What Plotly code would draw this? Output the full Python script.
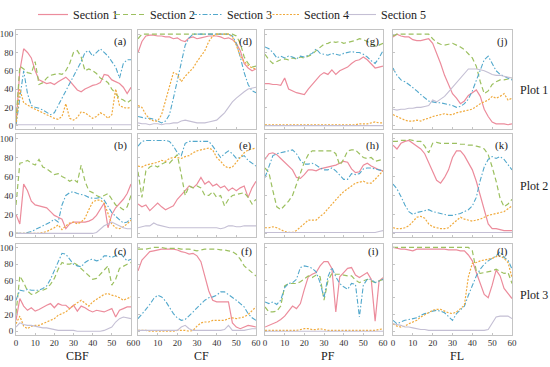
import plotly.graph_objects as go

# ---------------- data ----------------
x_vals = [0, 2, 4, 6, 8, 10, 12, 14, 16, 18, 20, 22, 24, 26, 28, 30,
          32, 34, 36, 38, 40, 42, 44, 46, 48, 50, 52, 54, 56, 58, 60]

sections = ["Section 1", "Section 2", "Section 3", "Section 4", "Section 5"]
col_labels = ["CBF", "CF", "PF", "FL"]
row_labels = ["Plot 1", "Plot 2", "Plot 3"]
y_ticks = [0, 20, 40, 60, 80, 100]
x_ticks = [0, 10, 20, 30, 40, 50, 60]

# (a) CBF / Plot 1
a_s1 = [2,60,84,80,74,60,50,48,46,47,45,48,51,53,49,44,39,37,40,42,44,45,47,56,55,50,48,46,42,35,42]
a_s2 = [5,65,62,58,57,70,45,47,52,55,56,57,56,60,68,80,82,75,60,62,60,57,52,50,47,40,35,30,28,25,28]
a_s3 = [0,30,60,35,22,20,19,17,14,12,14,22,30,38,46,54,62,70,80,82,76,80,84,80,76,70,64,52,68,72,72]
a_s4 = [0,40,25,22,20,18,16,14,12,10,8,7,10,24,8,6,9,15,14,11,8,10,14,12,8,12,40,22,20,19,20]
a_s5 = [1,1,1,1,1,1,1,1,1,1,1,1,1,1,1,1,1,1,1,1,1,1,1,1,1,1,1,1,1,1,1]
# (b) CBF / Plot 2
b_s1 = [20,10,52,45,34,30,29,28,27,23,19,17,15,5,10,12,12,12,12,13,15,19,26,32,6,20,27,31,36,42,52]
b_s2 = [30,74,75,77,74,72,78,70,68,65,62,63,60,58,55,57,54,72,55,45,43,40,38,40,42,36,30,28,25,28,40]
b_s3 = [0,0,0,1,2,4,6,8,10,12,15,12,30,40,43,44,42,41,40,38,37,37,38,35,28,22,18,14,11,12,16]
b_s4 = [0,0,0,0,0,0,0,1,2,4,6,9,4,8,11,12,10,12,16,25,33,35,35,32,20,10,6,5,7,10,14]
b_s5 = [0,0,0,0,0,0,0,0,0,0,0,0,0,0,0,0,0,0,0,0,0,1,5,8,10,12,10,8,6,5,5]
# (c) CBF / Plot 3
c_s1 = [13,39,30,25,28,24,26,29,31,33,28,33,31,31,27,31,24,30,28,25,23,25,24,23,25,27,17,25,27,29,29]
c_s2 = [21,66,58,48,44,45,48,49,51,56,63,74,82,80,80,82,79,75,70,66,62,63,68,73,78,55,62,75,78,80,82]
c_s3 = [37,49,48,50,49,49,49,51,54,62,72,84,93,92,86,80,78,77,82,85,86,84,85,90,90,88,90,94,89,84,86]
c_s4 = [9,18,6,3,6,7,7,9,11,13,15,19,21,23,27,31,34,37,33,30,35,38,41,44,45,43,42,40,37,39,41]
c_s5 = [5,10,8,7,7,6,5,4,4,3,2,1,1,1,1,1,0,0,0,0,0,0,0,1,3,5,11,15,17,16,15]
# (d) CF / Plot 1
d_s1 = [80,92,98,99,99,98,98,97,97,95,96,93,92,96,97,95,96,97,98,98,98,97,95,96,94,90,82,68,63,60,62]
d_s2 = [95,100,100,100,100,100,100,100,100,100,100,100,100,100,100,100,100,100,100,100,100,100,100,100,100,98,90,75,68,64,65]
d_s3 = [10,9,8,8,7,5,3,5,12,30,50,70,88,96,100,100,100,100,100,100,100,100,100,100,98,90,75,58,45,38,36]
d_s4 = [22,20,12,7,5,5,12,28,45,58,56,48,54,58,63,70,76,82,92,98,100,100,100,100,97,88,76,70,66,63,62]
d_s5 = [3,2,2,1,2,2,1,2,2,3,3,5,6,5,4,3,3,3,4,5,6,10,14,20,26,30,34,37,40,41,42]
# (e) CF / Plot 2
e_s1 = [31,28,30,24,28,32,28,25,27,29,36,40,45,50,48,52,59,52,55,50,52,48,50,45,48,45,48,50,38,48,55]
e_s2 = [65,38,66,70,72,70,73,75,74,78,83,62,40,50,48,50,48,40,40,44,38,40,29,36,40,41,42,43,38,31,36]
e_s3 = [92,97,98,98,98,98,98,98,97,92,85,82,95,97,97,97,97,97,97,92,86,80,84,87,84,79,80,82,77,74,71]
e_s4 = [71,70,72,73,74,75,77,76,79,80,80,79,81,82,85,87,88,89,90,88,80,76,71,69,70,75,80,85,88,89,90]
e_s5 = [6,7,8,8,11,9,8,7,6,6,6,6,6,6,6,6,6,6,6,6,6,5,6,8,8,7,7,8,8,8,8]
# (f) CF / Plot 3
f_s1 = [72,85,90,95,96,97,98,98,98,98,97,95,94,92,93,90,83,64,48,37,35,35,35,35,10,5,3,5,7,6,5]
f_s2 = [98,98,98,99,100,100,100,99,99,99,99,98,98,98,97,96,97,98,98,98,98,97,97,96,95,92,86,78,74,71,66]
f_s3 = [15,20,26,32,39,43,41,36,28,21,16,13,14,18,23,28,33,37,40,41,43,47,47,44,41,37,33,29,21,16,13]
f_s4 = [1,1,1,0,0,0,0,0,0,0,1,1,1,0,1,6,10,11,11,13,13,13,13,15,16,15,16,17,20,25,29]
f_s5 = [1,1,1,1,1,1,1,1,1,1,1,5,7,3,1,1,1,1,1,1,1,1,2,7,1,1,1,1,2,3,3]
# (g) PF / Plot 1
g_s1 = [46,46,45,45,44,52,40,38,36,35,34,40,45,50,55,58,56,61,56,60,62,64,68,71,72,75,72,67,63,64,65]
g_s2 = [78,72,68,70,72,73,72,74,73,75,74,76,78,82,86,89,90,92,91,92,90,91,92,93,95,94,92,89,87,88,90]
g_s3 = [86,84,80,74,76,74,76,75,73,76,75,77,79,84,79,78,77,79,78,77,79,80,81,80,80,78,75,71,68,74,82]
g_s4 = [1,1,1,1,1,1,1,1,1,1,1,1,1,1,1,1,1,1,1,1,1,1,1,1,2,2,2,3,4,3,3]
g_s5 = [0,0,0,0,0,0,0,0,0,0,0,0,0,0,0,0,0,0,0,0,0,0,0,0,0,0,0,0,0,0,0]
# (h) PF / Plot 2
h_s1 = [78,84,85,83,79,75,71,67,59,58,62,67,67,66,68,69,70,71,72,74,76,75,68,64,65,72,74,71,69,67,66]
h_s2 = [69,64,45,28,25,29,34,40,52,63,75,83,87,87,87,87,87,87,84,72,78,87,88,88,84,80,79,80,76,77,78]
h_s3 = [59,70,82,84,85,86,87,88,84,77,73,73,74,72,69,67,67,69,66,61,57,57,63,62,63,68,69,69,68,67,66]
h_s4 = [6,6,7,6,4,2,1,1,3,7,11,14,14,14,18,21,26,31,35,40,44,47,50,53,54,55,53,53,57,62,66]
h_s5 = [1,1,1,1,1,1,1,1,1,1,1,1,1,1,1,1,1,1,1,1,1,1,1,1,1,1,1,1,1,2,3]
# (i) PF / Plot 3
i_s1 = [5,7,9,11,14,18,24,30,27,33,50,65,68,70,78,83,83,75,23,65,70,75,76,67,64,67,70,62,12,60,64]
i_s2 = [29,23,23,24,30,54,57,57,57,59,63,66,64,67,65,37,60,69,68,68,67,66,66,61,58,60,62,60,58,60,62]
i_s3 = [35,33,35,32,37,52,57,58,62,76,78,77,75,71,58,40,65,76,65,57,53,50,57,56,17,55,62,62,58,60,62]
i_s4 = [1,1,1,1,1,1,1,1,1,2,3,3,2,2,3,2,1,1,1,1,1,1,1,1,1,1,1,1,1,2,3]
i_s5 = [0,0,0,0,0,0,0,0,0,0,0,0,0,0,0,0,0,0,0,0,0,0,0,0,0,0,0,0,0,0,0]
# (j) FL / Plot 1
j_s1 = [97,100,98,97,97,94,93,93,94,95,90,80,68,55,44,35,30,24,27,33,36,39,32,18,10,4,2,2,2,1,2]
j_s2 = [98,100,100,100,100,100,100,100,100,100,95,91,89,88,89,90,88,86,83,79,74,65,48,35,38,45,48,50,50,51,52]
j_s3 = [63,55,50,48,45,42,38,34,30,27,26,25,25,24,23,22,20,21,24,29,38,50,60,72,76,68,60,56,54,52,50]
j_s4 = [12,10,8,6,5,5,6,5,7,8,10,11,12,13,12,12,14,15,16,17,18,21,24,26,28,32,30,32,35,28,30]
j_s5 = [18,17,18,18,19,19,20,20,21,22,28,26,29,32,37,42,48,53,58,62,62,62,61,60,58,56,55,55,54,53,52]
# (k) FL / Plot 2
k_s1 = [93,89,95,97,98,95,92,89,84,74,64,56,53,59,67,80,87,87,82,75,67,55,40,26,10,5,5,4,3,3,3]
k_s2 = [97,97,98,98,99,98,97,97,92,85,95,96,95,95,95,95,95,94,94,93,93,92,91,89,83,70,55,37,28,31,36]
k_s3 = [52,47,39,30,23,20,22,23,24,25,23,22,21,20,19,19,20,21,23,25,29,38,56,70,78,81,79,81,78,73,67]
k_s4 = [6,5,5,6,8,13,17,18,16,10,7,6,5,5,6,10,14,17,15,14,13,14,15,17,19,20,21,22,23,26,29]
k_s5 = [1,1,1,1,1,1,1,1,1,1,1,1,1,1,1,1,1,1,1,1,1,1,1,1,1,1,1,1,1,1,1]
# (l) FL / Plot 3
l_s1 = [100,99,98,98,97,96,98,98,98,98,98,98,98,98,97,97,97,96,96,91,84,70,56,44,40,55,73,66,51,45,39]
l_s2 = [100,100,100,100,100,100,100,100,100,100,100,100,100,100,100,100,100,100,100,100,96,72,69,70,71,72,74,71,69,70,57]
l_s3 = [13,9,11,13,14,15,16,19,21,22,24,25,24,22,18,13,21,25,30,43,55,66,74,80,84,87,90,95,88,85,74]
l_s4 = [9,6,5,6,9,11,13,17,20,23,25,26,26,24,22,21,23,27,31,65,81,82,84,85,86,87,89,90,87,82,64]
l_s5 = [9,8,7,5,5,4,3,2,2,1,1,1,1,1,1,1,1,1,1,1,1,1,1,1,2,10,17,18,18,18,15]

panels = [
    ("a", 0, 0, [a_s1, a_s2, a_s3, a_s4, a_s5]),
    ("b", 1, 0, [b_s1, b_s2, b_s3, b_s4, b_s5]),
    ("c", 2, 0, [c_s1, c_s2, c_s3, c_s4, c_s5]),
    ("d", 0, 1, [d_s1, d_s2, d_s3, d_s4, d_s5]),
    ("e", 1, 1, [e_s1, e_s2, e_s3, e_s4, e_s5]),
    ("f", 2, 1, [f_s1, f_s2, f_s3, f_s4, f_s5]),
    ("g", 0, 2, [g_s1, g_s2, g_s3, g_s4, g_s5]),
    ("h", 1, 2, [h_s1, h_s2, h_s3, h_s4, h_s5]),
    ("i", 2, 2, [i_s1, i_s2, i_s3, i_s4, i_s5]),
    ("j", 0, 3, [j_s1, j_s2, j_s3, j_s4, j_s5]),
    ("k", 1, 3, [k_s1, k_s2, k_s3, k_s4, k_s5]),
    ("l", 2, 3, [l_s1, l_s2, l_s3, l_s4, l_s5]),
]

# ---------------- style ----------------
W, H = 550, 367
colors = ["#ec8c9c", "#9cc060", "#52a8cc", "#f0aa3c", "#c4bfd4"]
dashes = ["solid", "5px,3px", "5px,2px,1.5px,2px", "2px,1.5px", "solid"]
widths = [1.2, 1.2, 1.1, 1.2, 1.1]
legend_w = [32, 32, 32, 32, 50]
FONT = "Liberation Serif, Times New Roman, serif"
FRAME = "#c4c4c4"

col_px = [(16, 131), (138, 256), (265, 383), (393, 512)]
row_px = [(28.2, 128), (133, 236.5), (243, 334.4)]


def xf(px):
    return px / W


def yf(px):
    return 1 - px / H


fig = go.Figure()
layout = dict(width=W, height=H, margin=dict(l=0, r=0, t=0, b=0, pad=0),
              template="none", paper_bgcolor="white", plot_bgcolor="white",
              showlegend=True)
annotations = []

for letter, r, c, series in panels:
    k = r * 4 + c + 1
    suf = "" if k == 1 else str(k)
    for si, ys in enumerate(series):
        fig.add_trace(go.Scatter(
            x=x_vals, y=ys, mode="lines", name=sections[si],
            legendgroup=sections[si], showlegend=(letter == "a"),
            legendwidth=legend_w[si],
            line=dict(color=colors[si], width=widths[si], dash=dashes[si]),
            xaxis="x" + suf, yaxis="y" + suf, hoverinfo="skip"))
    x0, x1 = col_px[c]
    top, bot = row_px[r]
    layout["xaxis" + suf] = dict(
        domain=[xf(x0), xf(x1)], anchor="y" + suf, range=[0, 60],
        tickvals=x_ticks, showticklabels=(r == 2), ticks="inside", ticklen=2,
        tickcolor=FRAME, showline=True, mirror=True, linecolor=FRAME, linewidth=1,
        showgrid=False, zeroline=False, automargin=False,
        tickfont=dict(family=FONT, size=9, color="#333333"))
    layout["yaxis" + suf] = dict(
        domain=[yf(bot), yf(top)], anchor="x" + suf, range=[-4, 104.5],
        tickvals=y_ticks, showticklabels=(c == 0), ticks="inside", ticklen=2,
        tickcolor=FRAME, showline=True, mirror=True, linecolor=FRAME, linewidth=1,
        showgrid=False, zeroline=False, automargin=False,
        tickfont=dict(family=FONT, size=9, color="#333333"))
    label_y = [40, 144, 251][r]
    annotations.append(dict(
        text="(" + letter + ")", xref="paper", yref="paper",
        x=xf(x1 - 2), y=yf(label_y), xanchor="right", yanchor="middle",
        showarrow=False, font=dict(family=FONT, size=11, color="#222222")))

for c, lab in enumerate(col_labels):
    x0, x1 = col_px[c]
    annotations.append(dict(
        text=lab, xref="paper", yref="paper", x=xf((x0 + x1) / 2 + 4), y=yf(356),
        xanchor="center", yanchor="middle", showarrow=False,
        font=dict(family=FONT, size=12, color="#222222")))

for r, lab in enumerate(row_labels):
    annotations.append(dict(
        text=lab, xref="paper", yref="paper", x=xf(534), y=yf([88, 185, 295][r]),
        xanchor="center", yanchor="middle", showarrow=False,
        font=dict(family=FONT, size=12, color="#222222")))

layout["annotations"] = annotations
layout["legend"] = dict(
    orientation="h", x=xf(33), y=1 + 2 / H, xanchor="left", yanchor="top",
    font=dict(family=FONT, size=12, color="#222222"),
    bgcolor="rgba(0,0,0,0)", entrywidth=32, entrywidthmode="pixels",
    itemclick=False, itemdoubleclick=False)

fig.update_layout(**layout)
fig.write_html(
    "out.html", include_plotlyjs=True, config={"displayModeBar": False},
    post_script="document.body.style.margin='0';document.body.style.padding='0';"
                "document.body.style.overflow='hidden';")
